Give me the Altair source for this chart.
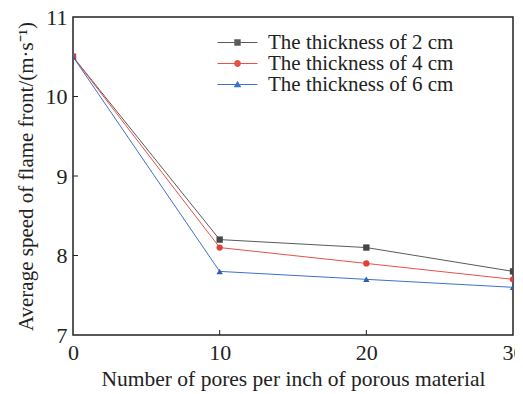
import altair as alt
import pandas as pd

pores = [0, 10, 20, 30]
series_names = ["The thickness of 2 cm", "The thickness of 4 cm", "The thickness of 6 cm"]
speed_2cm = [10.5, 8.2, 8.1, 7.8]
speed_4cm = [10.5, 8.1, 7.9, 7.7]
speed_6cm = [10.5, 7.8, 7.7, 7.6]
marker_colors = ["#454545", "#e0403a", "#2f5fb3"]
line_colors = ["#5a5a5a", "#e8504a", "#3c72c8"]
marker_shapes = ["square", "circle", "triangle-up"]
x_ticks = [0, 10, 20, 30]
y_ticks = [7, 8, 9, 10, 11]
inner_x_ticks = [10, 20]
inner_y_ticks = [8, 9, 10]

# legend symbols: short line + marker (custom SVG paths, 1 unit = 10 px)
legend_paths = [
    "M-1,-0.06H3V0.06H-1Z M0.68,-0.32H1.32V0.32H0.68Z",
    "M-1,-0.06H3V0.06H-1Z M0.66,0A0.34,0.34 0 1,1 1.34,0A0.34,0.34 0 1,1 0.66,0Z",
    "M-1,-0.06H3V0.06H-1Z M1,-0.38L1.38,0.28H0.62Z",
]

rows = []
for name, vals in zip(series_names, [speed_2cm, speed_4cm, speed_6cm]):
    for p, v in zip(pores, vals):
        rows.append({"pores": p, "speed": v, "series": name})
df = pd.DataFrame(rows)

FONT = "Liberation Serif"
W, H = 440, 318

x_enc = alt.X(
    "pores:Q",
    scale=alt.Scale(domain=[0, 30], nice=False),
    axis=alt.Axis(
        values=x_ticks, format="d", title="Number of pores per inch of porous material",
        grid=False, domain=False, ticks=False, labelPadding=7,
        labelFontSize=22, titleFontSize=21.5, titlePadding=5,
        labelFlush=False,
    ),
)
y_enc = alt.Y(
    "speed:Q",
    scale=alt.Scale(domain=[7, 11], nice=False, zero=False),
    axis=alt.Axis(
        values=y_ticks, format="d", title="Average speed of flame front/(m·s⁻¹)",
        grid=False, domain=False, ticks=False, labelPadding=6,
        labelFontSize=22, titleFontSize=21, titlePadding=9,
        labelFlush=False,
    ),
)

base = alt.Chart(df)

lines = base.mark_line(strokeWidth=1, clip=True).encode(
    x=x_enc, y=y_enc,
    color=alt.Color("series:N", scale=alt.Scale(domain=series_names, range=line_colors), legend=None),
)

points = base.mark_point(filled=True, size=40, opacity=1, clip=True).encode(
    x="pores:Q", y="speed:Q",
    color=alt.Color("series:N", scale=alt.Scale(domain=series_names, range=marker_colors), legend=None),
    shape=alt.Shape("series:N", scale=alt.Scale(domain=series_names, range=marker_shapes), legend=None),
)

leg = alt.Legend(
    title=None, orient="none", legendX=144, legendY=15,
    symbolSize=400, symbolStrokeWidth=0, symbolOpacity=1,
    labelFont=FONT, labelFontSize=21, labelColor="#222",
    labelOffset=30, rowPadding=-2, padding=0, labelLimit=400,
)
legend_layer = base.mark_point(filled=True, size=0, opacity=1).encode(
    x="pores:Q", y="speed:Q",
    color=alt.Color("series:N", scale=alt.Scale(domain=series_names, range=line_colors), legend=leg),
    shape=alt.Shape("series:N", scale=alt.Scale(domain=series_names, range=legend_paths), legend=leg),
)

xt = alt.Chart(pd.DataFrame({"t": inner_x_ticks})).mark_rule(color="#222", strokeWidth=1).encode(
    x="t:Q", y=alt.value(H), y2=alt.value(H - 5)
)
yt = alt.Chart(pd.DataFrame({"t": inner_y_ticks})).mark_rule(color="#222", strokeWidth=1).encode(
    y="t:Q", x=alt.value(0), x2=alt.value(5)
)

chart = (
    alt.layer(lines, points, legend_layer, xt, yt)
    .resolve_scale(color="independent", shape="independent")
    .properties(
        width=W, height=H,
        autosize=alt.AutoSizeParams(type="none"),
        padding={"left": 65, "top": 9, "right": 2, "bottom": 60},
    )
    .configure_view(stroke="#222", strokeWidth=1.5)
    .configure_axis(labelFont=FONT, titleFont=FONT, labelColor="#222", titleColor="#222",
                    titleFontWeight="normal")
)

chart.save("out.html", embed_options={"renderer": "svg", "actions": False})
